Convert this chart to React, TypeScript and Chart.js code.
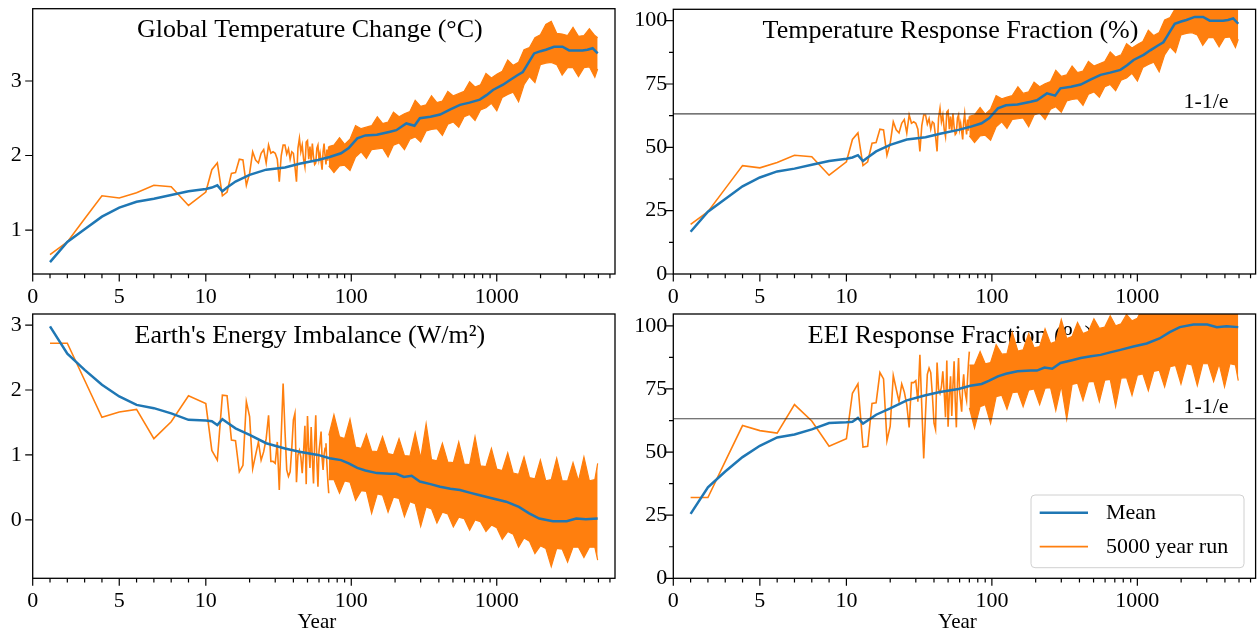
import React, { useEffect, useRef } from 'react';
import { Chart, registerables, LinearScale } from 'chart.js';

// ---------------- DATA ----------------
const X_MIN = 0;
const X_MAX = 6500;
const X_MAJOR_TICKS = [0, 5, 10, 100, 1000];
const X_MINOR_TICKS = [1, 2, 3, 4, 6, 7, 8, 9, 20, 30, 40, 50, 60, 70, 80, 90, 200, 300, 400, 500, 600, 700, 800, 900, 2000, 3000, 4000, 5000, 6000];

const RUN_YEARS = [1, 2, 3, 4, 5, 6, 7, 8, 9, 10, 11, 12, 13, 14, 15, 16, 17, 18, 19, 20, 21, 22, 23, 24, 25, 26, 27, 28, 29, 30, 31, 32, 33, 34, 35, 36, 37, 38, 39, 40, 41, 42, 43, 44, 45, 46, 47, 48, 49, 50, 51, 52, 53, 54, 55, 56, 57, 58, 59, 60, 61, 62, 63, 64, 65, 66, 67, 68, 69, 70];
const BAND_YEARS = [70, 76, 83, 90, 98, 107, 117, 127, 138, 151, 164, 179, 195, 213, 232, 253, 275, 300, 327, 356, 388, 423, 461, 503, 548, 597, 651, 709, 773, 843, 919, 1001, 1091, 1190, 1297, 1413, 1540, 1679, 1830, 1995, 2174, 2370, 2583, 2816, 3069, 3345, 3647, 3975, 4333, 4723, 4940];

// Temperature panels
const T_MEAN_YEARS = [1, 2, 3, 4, 5, 6, 7, 8, 9, 10, 11, 12, 13, 14, 16, 20, 26, 35, 44, 59, 71, 85, 96, 110, 125, 150, 185, 204, 239, 272, 296, 350, 408, 480, 559, 650, 765, 850, 942, 1105, 1227, 1395, 1510, 1600, 1670, 1808, 2000, 2175, 2480, 2830, 3145, 3500, 3880, 4200, 4560, 4940];
const TEMP_MEAN = [0.57, 0.84, 1.01, 1.18, 1.30, 1.38, 1.42, 1.47, 1.52, 1.55, 1.57, 1.60, 1.52, 1.57, 1.65, 1.74, 1.81, 1.84, 1.89, 1.94, 1.98, 2.03, 2.10, 2.23, 2.27, 2.28, 2.32, 2.34, 2.43, 2.40, 2.50, 2.52, 2.55, 2.62, 2.68, 2.71, 2.75, 2.81, 2.88, 2.95, 3.01, 3.08, 3.12, 3.20, 3.26, 3.37, 3.40, 3.42, 3.46, 3.46, 3.41, 3.41, 3.41, 3.42, 3.44, 3.37];
const TEMP_RUN = [0.67, 0.84, 1.15, 1.46, 1.43, 1.50, 1.60, 1.58, 1.33, 1.51, 1.81, 1.90, 1.46, 1.51, 1.76, 1.77, 1.95, 1.94, 1.60, 1.76, 2.05, 1.94, 1.90, 2.03, 2.08, 1.90, 2.14, 2.03, 2.05, 2.03, 1.95, 1.65, 2.00, 2.14, 2.14, 2.02, 2.09, 1.95, 2.05, 2.03, 1.85, 1.65, 2.10, 2.23, 2.05, 2.14, 1.95, 1.85, 2.18, 2.20, 1.95, 2.12, 1.92, 2.16, 1.98, 1.88, 1.90, 2.10, 2.14, 1.95, 2.03, 1.92, 1.81, 2.05, 2.16, 2.00, 1.88, 2.08, 1.93, 2.12];
const TEMP_BAND_UP = [2.12, 2.14, 2.24, 2.15, 2.22, 2.40, 2.36, 2.38, 2.40, 2.52, 2.43, 2.45, 2.58, 2.52, 2.56, 2.59, 2.74, 2.66, 2.68, 2.80, 2.71, 2.73, 2.86, 2.80, 2.83, 2.86, 2.99, 2.92, 2.95, 3.10, 3.04, 3.09, 3.13, 3.28, 3.21, 3.25, 3.42, 3.45, 3.58, 3.62, 3.76, 3.80, 3.64, 3.63, 3.61, 3.72, 3.60, 3.61, 3.70, 3.61, 3.58];
const TEMP_BAND_LOW = [1.86, 1.77, 1.86, 1.87, 1.80, 1.98, 2.05, 1.96, 2.08, 2.09, 2.10, 1.98, 2.14, 2.17, 2.08, 2.22, 2.25, 2.18, 2.33, 2.35, 2.36, 2.27, 2.42, 2.45, 2.38, 2.52, 2.55, 2.47, 2.61, 2.64, 2.70, 2.60, 2.78, 2.82, 2.85, 2.72, 2.95, 3.06, 2.98, 3.22, 3.24, 3.25, 3.22, 3.08, 3.18, 3.18, 3.06, 3.18, 3.19, 3.05, 3.16];

const TFRAC_MEAN = [16.7, 24.6, 29.6, 34.6, 38.1, 40.5, 41.6, 43.1, 44.6, 45.5, 46.0, 46.9, 44.6, 46.0, 48.4, 51.0, 53.1, 54.0, 55.4, 56.9, 58.1, 59.5, 61.6, 65.4, 66.6, 66.9, 68.0, 68.6, 71.3, 70.4, 73.3, 73.9, 74.8, 76.8, 78.6, 79.5, 80.6, 82.4, 84.5, 86.5, 88.3, 90.3, 91.5, 93.8, 95.6, 98.8, 99.7, 100.3, 101.5, 101.5, 100.0, 100.0, 100.0, 100.3, 100.9, 98.8];
const TFRAC_RUN = [19.6, 24.6, 33.7, 42.8, 41.9, 44.0, 46.9, 46.3, 39.0, 44.3, 53.1, 55.7, 42.8, 44.3, 51.6, 51.9, 57.2, 56.9, 46.9, 51.6, 60.1, 56.9, 55.7, 59.5, 61.0, 55.7, 62.8, 59.5, 60.1, 59.5, 57.2, 48.4, 58.7, 62.8, 62.8, 59.2, 61.3, 57.2, 60.1, 59.5, 54.3, 48.4, 61.6, 65.4, 60.1, 62.8, 57.2, 54.3, 63.9, 64.5, 57.2, 62.2, 56.3, 63.3, 58.1, 55.1, 55.7, 61.6, 62.8, 57.2, 59.5, 56.3, 53.1, 60.1, 63.3, 58.7, 55.1, 61.0, 56.6, 62.2];
const TFRAC_BAND_UP = [62.2, 62.8, 65.7, 63.1, 65.1, 70.4, 69.2, 69.8, 70.4, 73.9, 71.3, 71.9, 75.7, 73.9, 75.1, 76.0, 80.4, 78.0, 78.6, 82.1, 79.5, 80.1, 83.9, 82.1, 83.0, 83.9, 87.7, 85.6, 86.5, 90.9, 89.2, 90.6, 91.8, 96.2, 94.1, 95.3, 100.3, 101.2, 105.0, 106.2, 110.3, 111.4, 106.7, 106.5, 105.9, 109.1, 105.6, 105.9, 108.5, 105.9, 105.0];
const TFRAC_BAND_LOW = [54.5, 51.9, 54.5, 54.8, 52.8, 58.1, 60.1, 57.5, 61.0, 61.3, 61.6, 58.1, 62.8, 63.6, 61.0, 65.1, 66.0, 63.9, 68.3, 68.9, 69.2, 66.6, 71.0, 71.9, 69.8, 73.9, 74.8, 72.4, 76.5, 77.4, 79.2, 76.2, 81.5, 82.7, 83.6, 79.8, 86.5, 89.7, 87.4, 94.4, 95.0, 95.3, 94.4, 90.3, 93.3, 93.3, 89.7, 93.3, 93.6, 89.4, 92.7];

// Energy imbalance panels
const E_MEAN_YEARS = [1, 2, 3, 4, 5, 6, 7, 8, 9, 10, 11, 12, 13, 14, 16, 20, 26, 35, 44, 59, 71, 85, 96, 110, 125, 150, 185, 204, 230, 260, 296, 350, 408, 480, 559, 650, 765, 940, 1160, 1420, 1670, 1960, 2430, 3025, 3520, 4100, 4940];
const EEI_MEAN = [2.98, 2.56, 2.31, 2.08, 1.90, 1.77, 1.72, 1.64, 1.54, 1.53, 1.52, 1.46, 1.55, 1.50, 1.41, 1.31, 1.18, 1.10, 1.05, 1.00, 0.95, 0.92, 0.87, 0.80, 0.76, 0.72, 0.71, 0.71, 0.66, 0.68, 0.59, 0.55, 0.51, 0.48, 0.46, 0.42, 0.38, 0.33, 0.28, 0.20, 0.10, 0.02, -0.02, -0.02, 0.02, 0.01, 0.02];
const EEI_RUN = [2.72, 2.72, 2.15, 1.58, 1.66, 1.70, 1.25, 1.51, 1.91, 1.79, 1.07, 0.92, 1.92, 1.91, 1.23, 1.22, 0.74, 0.84, 1.82, 1.59, 0.79, 1.00, 1.20, 0.92, 1.05, 1.25, 1.61, 0.90, 0.90, 0.87, 1.20, 0.46, 1.30, 2.10, 1.38, 0.77, 0.67, 0.74, 1.10, 1.54, 1.64, 0.58, 1.00, 1.07, 0.97, 0.72, 1.05, 1.45, 0.55, 1.60, 1.10, 0.80, 1.43, 0.95, 0.56, 1.20, 1.61, 0.90, 0.51, 1.05, 1.20, 1.36, 0.95, 0.77, 1.00, 1.10, 1.18, 0.85, 0.60, 0.41];
const EEI_BAND_UP = [1.30, 1.62, 1.28, 1.25, 1.55, 1.12, 1.10, 1.32, 1.06, 1.05, 1.28, 1.02, 1.00, 1.25, 0.99, 0.98, 1.34, 0.95, 1.48, 0.93, 0.91, 1.18, 0.89, 0.88, 1.20, 0.86, 0.85, 1.28, 0.83, 0.82, 1.10, 0.78, 0.76, 1.03, 0.72, 0.70, 0.97, 0.65, 0.63, 0.92, 0.60, 0.62, 0.95, 0.60, 0.60, 0.88, 0.60, 0.97, 0.60, 0.62, 0.87];
const EEI_BAND_LOW = [0.62, 0.62, 0.41, 0.60, 0.58, 0.30, 0.45, 0.44, 0.10, 0.40, 0.38, 0.12, 0.35, 0.33, 0.05, 0.28, 0.25, -0.10, 0.20, 0.17, -0.05, 0.12, 0.09, -0.11, 0.04, 0.02, -0.16, 0.00, -0.03, -0.18, -0.08, -0.12, -0.30, -0.18, -0.22, -0.42, -0.28, -0.33, -0.52, -0.40, -0.44, -0.72, -0.44, -0.45, -0.65, -0.42, -0.42, -0.58, -0.42, -0.42, -0.62];

const EFRAC_MEAN = [25.5, 36.0, 42.3, 48.0, 52.5, 55.8, 57.0, 59.0, 61.5, 61.8, 62.0, 63.5, 61.3, 62.5, 64.8, 67.3, 70.5, 72.5, 73.8, 75.0, 76.3, 77.0, 78.3, 80.0, 81.0, 82.0, 82.3, 82.3, 83.5, 83.0, 85.3, 86.3, 87.3, 88.0, 88.5, 89.5, 90.5, 91.8, 93.0, 95.0, 97.5, 99.5, 100.5, 100.5, 99.5, 99.8, 99.5];
const EFRAC_RUN = [32.0, 32.0, 46.3, 60.5, 58.5, 57.5, 68.8, 62.3, 52.3, 55.3, 73.3, 77.0, 52.0, 52.3, 69.3, 69.5, 81.5, 79.0, 54.5, 60.3, 80.3, 75.0, 70.0, 77.0, 73.8, 68.8, 59.8, 77.5, 77.5, 78.3, 70.0, 88.5, 67.5, 47.5, 65.5, 80.8, 83.3, 81.5, 72.5, 61.5, 59.0, 85.5, 75.0, 73.3, 75.8, 82.0, 73.8, 63.8, 86.3, 60.0, 72.5, 80.0, 64.3, 76.3, 86.0, 70.0, 59.8, 77.5, 87.3, 73.8, 70.0, 66.0, 76.3, 80.8, 75.0, 72.5, 70.5, 78.8, 85.0, 89.8];
const EFRAC_BAND_UP = [84.5, 84.5, 89.8, 85.0, 85.5, 92.5, 88.8, 89.0, 97.5, 90.0, 90.5, 97.0, 91.3, 91.8, 98.8, 93.0, 93.8, 102.5, 95.0, 95.8, 101.3, 97.0, 97.8, 102.8, 99.0, 99.5, 104.0, 100.0, 100.8, 104.5, 102.0, 103.0, 107.5, 104.5, 105.5, 110.5, 107.0, 108.3, 113.0, 110.0, 111.0, 118.0, 111.0, 111.3, 116.3, 110.5, 110.5, 114.5, 110.5, 110.5, 115.5];
const EFRAC_BAND_LOW = [67.5, 59.5, 68.0, 68.8, 61.3, 72.0, 72.5, 67.0, 73.5, 73.8, 68.0, 74.5, 75.0, 68.8, 75.3, 75.5, 66.5, 76.3, 63.0, 76.8, 77.3, 70.5, 77.8, 78.0, 70.0, 78.5, 78.8, 68.0, 79.3, 79.5, 72.5, 80.5, 81.0, 74.3, 82.0, 82.5, 75.8, 83.8, 84.3, 77.0, 85.0, 84.5, 76.3, 85.0, 85.0, 78.0, 85.0, 75.8, 85.0, 84.5, 78.3];

const ONE_MINUS_INV_E = 63.21;
const LEGEND_LABELS = ['Mean', '5000 year run'];

// ---------------- STYLE ----------------
const FONT = "'Liberation Serif', 'Times New Roman', serif";
const BLUE = '#1f77b4';
const ORANGE = '#ff7f0e';
const MAJOR_LEN = 7.5;
const MINOR_LEN = 4.3;

// symlog-like x transform: linear 0..10 then log10 beyond
const LIN_DECADES = 1.19;
function tf(v: number) {
  return v <= 10 ? (v / 10) * LIN_DECADES : LIN_DECADES + Math.log10(v / 10);
}
function itf(t: number) {
  return t <= LIN_DECADES ? (t / LIN_DECADES) * 10 : 10 * Math.pow(10, t - LIN_DECADES);
}

class SymlogScale extends LinearScale {
  static id = 'symlog';
  static defaults = LinearScale.defaults;
  determineDataLimits() {
    this.min = this.options.min;
    this.max = this.options.max;
  }
  buildTicks() {
    return X_MAJOR_TICKS.map((v) => ({ value: v }));
  }
  getPixelForValue(value: number) {
    const a = tf(this.min);
    const b = tf(this.max);
    return this.getPixelForDecimal((tf(value) - a) / (b - a));
  }
  getValueForPixel(pixel: number) {
    const a = tf(this.min);
    const b = tf(this.max);
    return itf(a + this.getDecimalForPixel(pixel) * (b - a));
  }
}

Chart.register(...registerables, SymlogScale as any);

const pts = (xs: number[], ys: number[]) => xs.map((x, i) => ({ x, y: ys[i] }));

type PanelCfg = {
  key: string;
  title: string;
  canvas: { left: number; top: number; w: number; h: number };
  area: { left: number; top: number; right: number; bottom: number };
  yMin: number;
  yMax: number;
  yMajor: number[];
  yMinor: number[];
  yPad: number;
  meanYears: number[];
  mean: number[];
  run: number[];
  bandUp: number[];
  bandLow: number[];
  hline?: boolean;
  legend?: boolean;
  xTitle?: boolean;
};

const PANELS: PanelCfg[] = [
  {
    key: 'tl', title: 'Global Temperature Change (\u00B0C)',
    canvas: { left: 0, top: 0, w: 629, h: 310 },
    area: { left: 32.7, top: 8.7, right: 615, bottom: 274 },
    yMin: 0.41, yMax: 3.97, yMajor: [1, 2, 3], yMinor: [], yPad: 11,
    meanYears: T_MEAN_YEARS, mean: TEMP_MEAN, run: TEMP_RUN,
    bandUp: TEMP_BAND_UP, bandLow: TEMP_BAND_LOW,
  },
  {
    key: 'tr', title: 'Temperature Response Fraction (%)',
    canvas: { left: 629, top: 0, w: 629, h: 310 },
    area: { left: 673.3, top: 9.3, right: 1255.6, bottom: 274 },
    yMin: 0, yMax: 104.5, yMajor: [0, 25, 50, 75, 100], yMinor: [12.5, 37.5, 62.5, 87.5], yPad: 6,
    meanYears: T_MEAN_YEARS, mean: TFRAC_MEAN, run: TFRAC_RUN,
    bandUp: TFRAC_BAND_UP, bandLow: TFRAC_BAND_LOW,
    hline: true,
  },
  {
    key: 'bl', title: "Earth's Energy Imbalance (W/m\u00B2)",
    canvas: { left: 0, top: 310, w: 629, h: 325 },
    area: { left: 32.7, top: 314, right: 615, bottom: 578.3 },
    yMin: -0.9, yMax: 3.17, yMajor: [0, 1, 2, 3], yMinor: [], yPad: 11,
    meanYears: E_MEAN_YEARS, mean: EEI_MEAN, run: EEI_RUN,
    bandUp: EEI_BAND_UP, bandLow: EEI_BAND_LOW,
    xTitle: true,
  },
  {
    key: 'br', title: 'EEI Response Fraction (%)',
    canvas: { left: 629, top: 310, w: 629, h: 325 },
    area: { left: 673.3, top: 314, right: 1255.6, bottom: 578.3 },
    yMin: 0, yMax: 104.7, yMajor: [0, 25, 50, 75, 100], yMinor: [12.5, 37.5, 62.5, 87.5], yPad: 6,
    meanYears: E_MEAN_YEARS, mean: EFRAC_MEAN, run: EFRAC_RUN,
    bandUp: EFRAC_BAND_UP, bandLow: EFRAC_BAND_LOW,
    hline: true, legend: true, xTitle: true,
  },
];

const panelPlugin = {
  id: 'panel',
  beforeDatasetsDraw(chart: any, _args: any, opts: any) {
    const { ctx, chartArea: a } = chart;
    ctx.save();
    ctx.fillStyle = '#000';
    ctx.font = `26px ${FONT}`;
    ctx.textAlign = 'center';
    ctx.textBaseline = 'alphabetic';
    ctx.fillText(opts.title, a.left + 0.476 * (a.right - a.left), a.top + 28.5);
    ctx.restore();
  },
  afterDatasetsDraw(chart: any, _args: any, opts: any) {
    const { ctx, chartArea: a } = chart;
    const xs = chart.scales.x;
    const ys = chart.scales.y;
    ctx.save();
    if (opts.hline) {
      const py = ys.getPixelForValue(ONE_MINUS_INV_E);
      ctx.fillStyle = '#000';
      ctx.font = `22px ${FONT}`;
      ctx.textAlign = 'right';
      ctx.textBaseline = 'alphabetic';
      ctx.fillText('1-1/e', a.right - 27, py - 5.5);
    }
    ctx.strokeStyle = '#000';
    ctx.lineWidth = 1.2;
    ctx.beginPath();
    for (const v of X_MAJOR_TICKS) {
      const px = xs.getPixelForValue(v);
      ctx.moveTo(px, a.bottom);
      ctx.lineTo(px, a.bottom + MAJOR_LEN);
    }
    for (const v of X_MINOR_TICKS) {
      const px = xs.getPixelForValue(v);
      ctx.moveTo(px, a.bottom);
      ctx.lineTo(px, a.bottom + MINOR_LEN);
    }
    for (const v of opts.yMajor) {
      const py = ys.getPixelForValue(v);
      ctx.moveTo(a.left, py);
      ctx.lineTo(a.left - MAJOR_LEN, py);
    }
    for (const v of opts.yMinor) {
      const py = ys.getPixelForValue(v);
      ctx.moveTo(a.left, py);
      ctx.lineTo(a.left - MINOR_LEN, py);
    }
    ctx.stroke();
    ctx.lineWidth = 1.3;
    ctx.strokeRect(a.left, a.top, a.right - a.left, a.bottom - a.top);
    ctx.restore();
  },
  afterDraw(chart: any, _args: any, opts: any) {
    const { ctx, chartArea: a } = chart;
    ctx.save();
    if (opts.xTitle) {
      ctx.fillStyle = '#000';
      ctx.font = `21px ${FONT}`;
      ctx.textAlign = 'center';
      ctx.textBaseline = 'alphabetic';
      ctx.fillText('Year', a.left + 0.488 * (a.right - a.left), a.bottom + 49.2);
    }
    if (opts.legend) {
      const w = 213;
      const h = 72.7;
      const x0 = a.right - 11.6 - w;
      const y0 = a.bottom - 10.6 - h;
      const r = 4;
      ctx.beginPath();
      ctx.moveTo(x0 + r, y0);
      ctx.lineTo(x0 + w - r, y0);
      ctx.quadraticCurveTo(x0 + w, y0, x0 + w, y0 + r);
      ctx.lineTo(x0 + w, y0 + h - r);
      ctx.quadraticCurveTo(x0 + w, y0 + h, x0 + w - r, y0 + h);
      ctx.lineTo(x0 + r, y0 + h);
      ctx.quadraticCurveTo(x0, y0 + h, x0, y0 + h - r);
      ctx.lineTo(x0, y0 + r);
      ctx.quadraticCurveTo(x0, y0, x0 + r, y0);
      ctx.closePath();
      ctx.fillStyle = 'rgba(255,255,255,0.8)';
      ctx.fill();
      ctx.strokeStyle = '#d0d0d0';
      ctx.lineWidth = 1;
      ctx.stroke();
      const rows = [
        { label: LEGEND_LABELS[0], color: BLUE, lw: 2.5, dy: 17.7 },
        { label: LEGEND_LABELS[1], color: ORANGE, lw: 1.8, dy: 51.7 },
      ];
      ctx.font = `22px ${FONT}`;
      ctx.textAlign = 'left';
      ctx.textBaseline = 'middle';
      for (const row of rows) {
        const yy = y0 + row.dy;
        ctx.strokeStyle = row.color;
        ctx.lineWidth = row.lw;
        ctx.beginPath();
        ctx.moveTo(x0 + 8.7, yy);
        ctx.lineTo(x0 + 57, yy);
        ctx.stroke();
        ctx.fillStyle = '#000';
        ctx.fillText(row.label, x0 + 75, yy + 1);
      }
    }
    ctx.restore();
  },
};

function buildConfig(p: PanelCfg) {
  const padTop = p.area.top - p.canvas.top;
  const padRight = p.canvas.left + p.canvas.w - p.area.right;
  const yWidth = p.area.left - p.canvas.left;
  const xHeight = p.canvas.top + p.canvas.h - p.area.bottom;
  const datasets: any[] = [
    {
      label: LEGEND_LABELS[0], data: pts(p.meanYears, p.mean), borderColor: BLUE, borderWidth: 2.5,
      pointRadius: 0, fill: false, order: 1, tension: 0,
    },
    {
      label: LEGEND_LABELS[1], data: pts(RUN_YEARS, p.run), borderColor: ORANGE, borderWidth: 1.6,
      pointRadius: 0, fill: false, order: 2, tension: 0,
    },
    {
      label: 'run band upper', data: pts(BAND_YEARS, p.bandUp), borderColor: ORANGE, borderWidth: 1.2,
      pointRadius: 0, fill: false, order: 3, tension: 0,
    },
    {
      label: 'run band lower', data: pts(BAND_YEARS, p.bandLow), borderColor: ORANGE, borderWidth: 1.2,
      backgroundColor: ORANGE, pointRadius: 0, fill: '-1', order: 3, tension: 0,
    },
  ];
  if (p.hline) {
    datasets.push({
      label: '1-1/e', data: [{ x: X_MIN, y: ONE_MINUS_INV_E }, { x: X_MAX, y: ONE_MINUS_INV_E }],
      borderColor: 'rgba(40,40,40,0.85)', borderWidth: 1.2, pointRadius: 0, fill: false, order: 0,
    });
  }
  return {
    type: 'line',
    data: { datasets },
    plugins: [panelPlugin],
    options: {
      animation: false,
      responsive: false,
      maintainAspectRatio: false,
      devicePixelRatio: 1,
      events: [],
      layout: { padding: { top: padTop, right: padRight, left: 0, bottom: 0 } },
      plugins: {
        legend: { display: false },
        tooltip: { enabled: false },
        panel: { title: p.title, hline: !!p.hline, legend: !!p.legend, xTitle: !!p.xTitle, yMajor: p.yMajor, yMinor: p.yMinor },
      },
      scales: {
        x: {
          type: 'symlog',
          min: X_MIN,
          max: X_MAX,
          grid: { display: false, drawTicks: false },
          border: { display: false },
          ticks: {
            font: { family: FONT, size: 22 }, color: '#000', padding: 10, maxRotation: 0, autoSkip: false,
            callback: (v: any) => String(v),
          },
          afterFit: (s: any) => { s.height = xHeight; s.paddingLeft = 0; s.paddingRight = 0; },
        },
        y: {
          type: 'linear',
          min: p.yMin,
          max: p.yMax,
          grid: { display: false, drawTicks: false },
          border: { display: false },
          ticks: {
            font: { family: FONT, size: 22 }, color: '#000', padding: p.yPad,
            callback: (v: any) => String(v),
          },
          afterBuildTicks: (s: any) => { s.ticks = p.yMajor.map((v) => ({ value: v })); },
          afterFit: (s: any) => { s.width = yWidth; s.paddingTop = 0; s.paddingBottom = 0; },
        },
      },
    },
  };
}

function Panel({ cfg }: { cfg: PanelCfg }) {
  const ref = useRef<HTMLCanvasElement | null>(null);
  useEffect(() => {
    if (!ref.current) return;
    const chart = new Chart(ref.current, buildConfig(cfg) as any);
    return () => chart.destroy();
  }, [cfg]);
  return (
    <canvas
      ref={ref}
      width={cfg.canvas.w}
      height={cfg.canvas.h}
      style={{ position: 'absolute', left: cfg.canvas.left, top: cfg.canvas.top, width: cfg.canvas.w, height: cfg.canvas.h }}
    />
  );
}

export default function App() {
  return (
    <div style={{ position: 'absolute', left: 0, top: 0, width: 1258, height: 635, background: '#fff', overflow: 'hidden' }}>
      {PANELS.map((p) => (
        <Panel key={p.key} cfg={p} />
      ))}
    </div>
  );
}
